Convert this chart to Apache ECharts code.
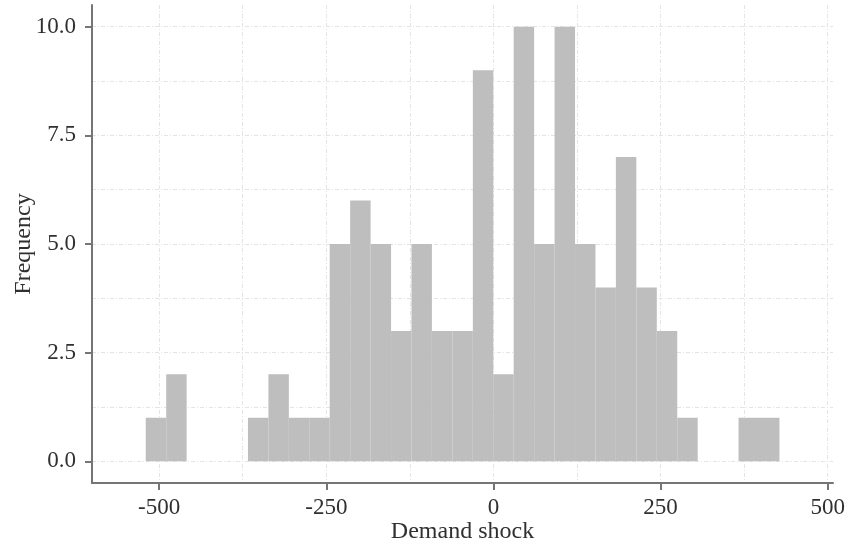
<!DOCTYPE html>
<html>
<head>
<meta charset="utf-8">
<script src="https://cdn.jsdelivr.net/npm/echarts@6/dist/echarts.min.js"></script>
<style>
html,body{margin:0;padding:0;background:#fff;}
#chart{width:847px;height:543px;}
</style>
</head>
<body>
<div id="chart"></div>
<script>
// Histogram bin edges and counts per bin
const binEdges = [-520.1, -489.5, -458.9, -428.4, -397.8, -367.2, -336.6, -306.0, -275.5, -244.9,
  -214.3, -183.7, -153.1, -122.6, -92.0, -61.4, -30.8, -0.2, 30.3, 60.9,
  91.5, 122.1, 152.7, 183.2, 213.8, 244.4, 275.0, 305.6, 336.1, 366.7,
  397.3, 427.9];
const counts = [1, 2, 0, 0, 0, 1, 2, 1, 1, 5, 6, 5, 3, 5, 3, 3, 9, 2, 10, 5, 10, 5, 4, 7, 4, 3, 1, 0, 0, 1, 1];
const xTicks = [-500, -250, 0, 250, 500];
const yTicks = [0, 2.5, 5, 7.5, 10];
const xGrid = [-500, -375, -250, -125, 0, 125, 250, 375, 500];
const yGrid = [0, 1.25, 2.5, 3.75, 5, 6.25, 7.5, 8.75, 10];
const xLabel = 'Demand shock';
const yLabel = 'Frequency';

const data = counts.map((c, i) => [binEdges[i], binEdges[i + 1], c]);

const FONT = '"Liberation Serif", "Times New Roman", serif';
const axisColor = '#757575';
const textColor = '#303030';
const gridStyle = {color: '#e4e4e4', width: 1, type: [4, 2, 1, 2]};

const chart = echarts.init(document.getElementById('chart'), null, {renderer: 'canvas'});
chart.setOption({
  animation: false,
  backgroundColor: '#ffffff',
  grid: {left: 92, right: 14, top: 5, bottom: 60, containLabel: false, outerBoundsMode: 'none'},
  xAxis: [
    {
      type: 'value', min: -600.5, max: 508,
      axisLine: {show: true, onZero: false, lineStyle: {color: axisColor, width: 2}},
      axisTick: {show: true, customValues: xTicks, length: 7, lineStyle: {color: axisColor, width: 2}},
      axisLabel: {show: true, customValues: xTicks, margin: 13, fontFamily: FONT, fontSize: 23, color: textColor},
      splitLine: {show: false},
      name: xLabel, nameLocation: 'middle', nameGap: 37, nameMoveOverlap: false,
      nameTextStyle: {fontFamily: FONT, fontSize: 24, color: textColor}
    },
    {
      type: 'value', min: -600.5, max: 508, position: 'bottom',
      axisLine: {show: false},
      axisTick: {show: false, customValues: xGrid},
      axisLabel: {show: false, customValues: xGrid},
      splitLine: {show: true, lineStyle: gridStyle}
    }
  ],
  yAxis: [
    {
      type: 'value', min: -0.5, max: 10.5,
      axisLine: {show: true, onZero: false, lineStyle: {color: axisColor, width: 2}},
      axisTick: {show: true, customValues: yTicks, length: 7, lineStyle: {color: axisColor, width: 2}},
      axisLabel: {show: true, customValues: yTicks, margin: 16, fontFamily: FONT, fontSize: 23, color: textColor,
        formatter: v => v.toFixed(1)},
      splitLine: {show: false},
      name: yLabel, nameLocation: 'middle', nameGap: 56, nameRotate: 90, nameMoveOverlap: false,
      nameTextStyle: {fontFamily: FONT, fontSize: 24, color: textColor}
    },
    {
      type: 'value', min: -0.5, max: 10.5, position: 'left',
      axisLine: {show: false},
      axisTick: {show: false, customValues: yGrid},
      axisLabel: {show: false, customValues: yGrid},
      splitLine: {show: true, lineStyle: gridStyle}
    }
  ],
  series: [{
    type: 'custom',
    xAxisIndex: 0, yAxisIndex: 0,
    data: data,
    encode: {x: [0, 1], y: 2},
    renderItem: function (params, api) {
      const h = api.value(2);
      if (!h) return null;
      const p0 = api.coord([api.value(0), 0]);
      const p1 = api.coord([api.value(1), h]);
      return {
        type: 'rect',
        shape: {x: p0[0], y: p1[1], width: p1[0] - p0[0], height: p0[1] - p1[1]},
        style: {fill: '#bebebe'}
      };
    }
  }]
});
</script>
</body>
</html>
